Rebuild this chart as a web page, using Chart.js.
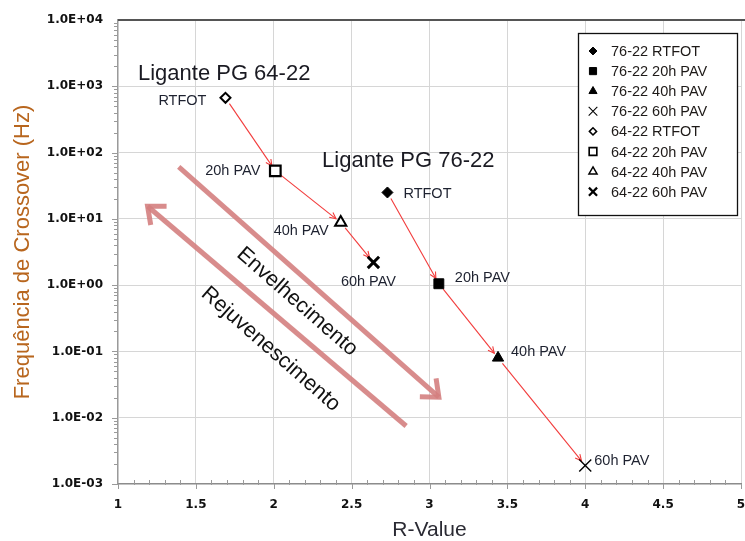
<!DOCTYPE html>
<html>
<head>
<meta charset="utf-8">
<script src="https://cdn.jsdelivr.net/npm/chart.js@4.4.1/dist/chart.umd.min.js"></script>
<style>
  html, body { margin: 0; padding: 0; background: #fff; }
  #wrap { width: 745px; height: 541px; }
</style>
</head>
<body>
<div id="wrap"><canvas id="crossover" width="745" height="541"></canvas></div>
<script>
// aging stages, in order
const stages = ['RTFOT', '20h PAV', '40h PAV', '60h PAV'];

// PG 76-22 binder: R-value and crossover frequency (Hz)
const rValue7622 = [2.73, 3.06, 3.44, 4.0];
const freq7622 = [25, 1.05, 0.08, 0.0019];

// PG 64-22 binder
const rValue6422 = [1.69, 2.01, 2.43, 2.64];
const freq6422 = [670, 53, 8.8, 2.2];

// axis ticks
const xTicks = [1, 1.5, 2, 2.5, 3, 3.5, 4, 4.5, 5];
const yTicks = [1e-3, 1e-2, 1e-1, 1, 10, 100, 1000, 10000];

// trend arrows in data units [R-value, Hz]: tail, head
const agingArrow = [[1.39, 60.6], [3.06, 0.0204]];
const rejuvArrow = [[2.85, 0.0075], [1.19, 15.5]];

// annotation text anchors in data units
const binderTitles = [
  { text: 'Ligante PG 64-22', at: [1.128, 1250] },
  { text: 'Ligante PG 76-22', at: [2.31, 61] }
];
const trendTexts = [
  { text: 'Envelhecimento', at: [2.15, 0.56] },
  { text: 'Rejuvenescimento', at: [1.98, 0.108] }
];

const FONT = '"Liberation Sans", Arial, sans-serif';

// marker look per binder, one entry per stage
const binders = [
  {
    name: '76-22', r: rValue7622, f: freq7622,
    markers: [
      { pointStyle: 'rectRot', radius: 5.5, fill: '#000', border: 1 },
      { pointStyle: 'rect', radius: 7, fill: '#000', border: 1 },
      { pointStyle: 'triangle', radius: 6.5, fill: '#000', border: 1 },
      { pointStyle: 'crossRot', radius: 8.5, fill: '#000', border: 1.4 }
    ],
    labels: [
      { align: 'left', dx: 16, dy: 2 },
      { align: 'left', dx: 16, dy: -6 },
      { align: 'left', dx: 13, dy: -6 },
      { align: 'left', dx: 9, dy: -5 }
    ]
  },
  {
    name: '64-22', r: rValue6422, f: freq6422,
    markers: [
      { pointStyle: 'rectRot', radius: 5, fill: '#fff', border: 2 },
      { pointStyle: 'rect', radius: 7.5, fill: '#fff', border: 2.2 },
      { pointStyle: 'triangle', radius: 6.5, fill: '#fff', border: 2 },
      { pointStyle: 'crossRot', radius: 8, fill: '#000', border: 3 }
    ],
    labels: [
      { align: 'right', dx: -19, dy: 3 },
      { align: 'right', dx: -15, dy: 0 },
      { align: 'right', dx: -12, dy: 8 },
      { align: 'center', dx: -5, dy: 20 }
    ]
  }
];

const datasets = [];
binders.forEach(b => {
  stages.forEach((s, i) => {
    const m = b.markers[i];
    datasets.push({
      label: b.name + ' ' + s,
      data: [{ x: b.r[i], y: b.f[i] }],
      pointStyle: m.pointStyle,
      pointRadius: m.radius,
      pointBackgroundColor: m.fill,
      pointBorderColor: '#000',
      pointBorderWidth: m.border,
      showLine: false
    });
  });
});

function yLabel(v) {
  const e = Math.round(Math.log10(v));
  return '1.0E' + (e < 0 ? '-' : '+') + String(Math.abs(e)).padStart(2, '0');
}

function arrowHead(ctx, x1, y1, x2, y2, len, spread) {
  const a = Math.atan2(y2 - y1, x2 - x1);
  ctx.beginPath();
  ctx.moveTo(x2 - len * Math.cos(a - spread), y2 - len * Math.sin(a - spread));
  ctx.lineTo(x2, y2);
  ctx.lineTo(x2 - len * Math.cos(a + spread), y2 - len * Math.sin(a + spread));
  ctx.stroke();
}

const decorations = {
  id: 'decorations',
  beforeDatasetsDraw(chart) {
    const { ctx, scales: { x, y } } = chart;
    ctx.save();

    // big pink trend arrows
    ctx.strokeStyle = 'rgba(212, 128, 128, 0.9)';
    ctx.lineWidth = 5;
    ctx.lineCap = 'butt';
    [agingArrow, rejuvArrow].forEach(([t, h]) => {
      const x1 = x.getPixelForValue(t[0]), y1 = y.getPixelForValue(t[1]);
      const x2 = x.getPixelForValue(h[0]), y2 = y.getPixelForValue(h[1]);
      ctx.beginPath();
      ctx.moveTo(x1, y1);
      ctx.lineTo(x2, y2);
      ctx.stroke();
      arrowHead(ctx, x1, y1, x2, y2, 19, 0.7);
    });

    // rotated trend captions
    ctx.fillStyle = '#111';
    ctx.font = '21.5px ' + FONT;
    ctx.textAlign = 'center';
    ctx.textBaseline = 'middle';
    trendTexts.forEach(t => {
      ctx.save();
      ctx.translate(x.getPixelForValue(t.at[0]), y.getPixelForValue(t.at[1]));
      ctx.rotate(41.3 * Math.PI / 180);
      ctx.fillText(t.text, 0, 0);
      ctx.restore();
    });

    // binder titles
    ctx.font = '22px ' + FONT;
    ctx.textAlign = 'left';
    ctx.textBaseline = 'alphabetic';
    ctx.fillStyle = '#1a1a22';
    binderTitles.forEach(t => {
      ctx.fillText(t.text, x.getPixelForValue(t.at[0]), y.getPixelForValue(t.at[1]));
    });

    // red connectors between consecutive aging stages
    ctx.strokeStyle = '#f23c3c';
    ctx.lineWidth = 1.1;
    let base = 0;
    binders.forEach(b => {
      for (let i = 0; i < stages.length - 1; i++) {
        const p = chart.getDatasetMeta(base + i).data[0];
        const q = chart.getDatasetMeta(base + i + 1).data[0];
        const dx = q.x - p.x, dy = q.y - p.y;
        const d = Math.hypot(dx, dy);
        const ux = dx / d, uy = dy / d;
        const sx = p.x + ux * 7, sy = p.y + uy * 7;
        const ex = q.x - ux * 6, ey = q.y - uy * 6;
        ctx.beginPath();
        ctx.moveTo(sx, sy);
        ctx.lineTo(ex, ey);
        ctx.stroke();
        arrowHead(ctx, sx, sy, ex, ey, 7, 0.45);
      }
      base += stages.length;
    });
    ctx.restore();
  },
  afterDatasetsDraw(chart) {
    const { ctx } = chart;
    ctx.save();
    ctx.font = '14.5px ' + FONT;
    ctx.fillStyle = '#1e2230';
    ctx.textBaseline = 'middle';
    let base = 0;
    binders.forEach(b => {
      stages.forEach((s, i) => {
        const el = chart.getDatasetMeta(base + i).data[0];
        const o = b.labels[i];
        ctx.textAlign = o.align;
        ctx.fillText(s, el.x + o.dx, el.y + o.dy);
      });
      base += stages.length;
    });
    ctx.restore();
  },
  afterDraw(chart) {
    const { ctx, chartArea: area, scales: { x, y } } = chart;
    ctx.save();

    // minor ticks on the log axis
    ctx.strokeStyle = '#9a9a9a';
    ctx.lineWidth = 1;
    for (let e = -3; e < 4; e++) {
      for (let k = 1; k < 10; k++) {
        const py = Math.round(y.getPixelForValue(k * Math.pow(10, e))) + 0.5;
        ctx.beginPath();
        ctx.moveTo(area.left - (k === 1 ? 6 : 4), py);
        ctx.lineTo(area.left, py);
        ctx.stroke();
      }
    }
    // minor ticks on R-value axis
    for (let i = 0; i <= 40; i++) {
      const px = Math.round(x.getPixelForValue(1 + i * 0.1)) + 0.5;
      const major = i % 5 === 0;
      ctx.beginPath();
      ctx.moveTo(px, area.bottom - (major ? 0 : 4));
      ctx.lineTo(px, area.bottom + (major ? 5 : 1));
      ctx.stroke();
    }

    // dark frame line along the top
    ctx.strokeStyle = '#555';
    ctx.lineWidth = 2;
    ctx.beginPath();
    ctx.moveTo(area.left, area.top);
    ctx.lineTo(chart.width, area.top);
    ctx.stroke();

    // legend box
    const bx = area.right - 163, by = area.top + 13, bw = 159, bh = 182;
    ctx.fillStyle = '#fff';
    ctx.fillRect(bx, by, bw, bh);
    ctx.strokeStyle = '#111';
    ctx.lineWidth = 1.3;
    ctx.strokeRect(bx + 0.5, by + 0.5, bw, bh);
    ctx.font = '14.5px ' + FONT;
    ctx.textAlign = 'left';
    ctx.textBaseline = 'middle';
    chart.data.datasets.forEach((ds, i) => {
      const ly = by + 18 + i * 20.1;
      ctx.fillStyle = ds.pointBackgroundColor;
      ctx.strokeStyle = '#000';
      ctx.lineWidth = Math.max(1, ds.pointBorderWidth * 0.75);
      Chart.helpers.drawPoint(ctx, {
        pointStyle: ds.pointStyle,
        radius: ds.pointRadius * 0.72,
        rotation: 0,
        borderWidth: ds.pointBorderWidth
      }, bx + 15, ly);
      ctx.fillStyle = '#1e1a18';
      ctx.fillText(ds.label, bx + 33, ly + 1);
    });
    ctx.restore();
  }
};

new Chart(document.getElementById('crossover'), {
  type: 'scatter',
  data: { datasets },
  options: {
    responsive: false,
    animation: false,
    layout: { autoPadding: false, padding: { top: 20, right: 4, left: 0, bottom: 0 } },
    plugins: {
      legend: { display: false },
      tooltip: { enabled: false }
    },
    scales: {
      x: {
        type: 'linear',
        min: 1,
        max: 5,
        afterBuildTicks: s => { s.ticks = xTicks.map(v => ({ value: v })); },
        afterFit: s => { s.height = 57; s.paddingLeft = 0; s.paddingRight = 0; },
        grid: { color: '#d6d6d6', lineWidth: 1, drawTicks: true, tickLength: 14, tickColor: 'rgba(0,0,0,0)' },
        border: { color: '#8c8c8c', width: 1.2 },
        ticks: {
          padding: 0,
          maxRotation: 0,
          autoSkip: false,
          color: '#111',
          font: { family: '"DejaVu Sans", sans-serif', size: 12, weight: 'bold' },
          callback: v => String(v)
        },
        title: {
          display: true,
          text: 'R-Value',
          color: '#2a2a33',
          font: { family: FONT, size: 21, lineHeight: 1 },
          padding: { top: 0, bottom: 0 }
        }
      },
      y: {
        type: 'logarithmic',
        min: 1e-3,
        max: 1e4,
        afterBuildTicks: s => { s.ticks = yTicks.map(v => ({ value: v })); },
        afterFit: s => { s.width = 118; s.paddingTop = 0; s.paddingBottom = 0; },
        grid: { color: '#d6d6d6', lineWidth: 1, drawTicks: false },
        border: { color: '#9a9a9a', width: 1.2 },
        ticks: {
          padding: 15,
          autoSkip: false,
          color: '#111',
          font: { family: '"DejaVu Sans", sans-serif', size: 12, weight: 'bold' },
          callback: v => yLabel(v)
        },
        title: {
          display: true,
          text: 'Frequência de Crossover (Hz)',
          color: '#b8661e',
          font: { family: FONT, size: 22, lineHeight: 1 },
          padding: { top: 12, bottom: 0 }
        }
      }
    }
  },
  plugins: [decorations]
});
</script>
</body>
</html>
